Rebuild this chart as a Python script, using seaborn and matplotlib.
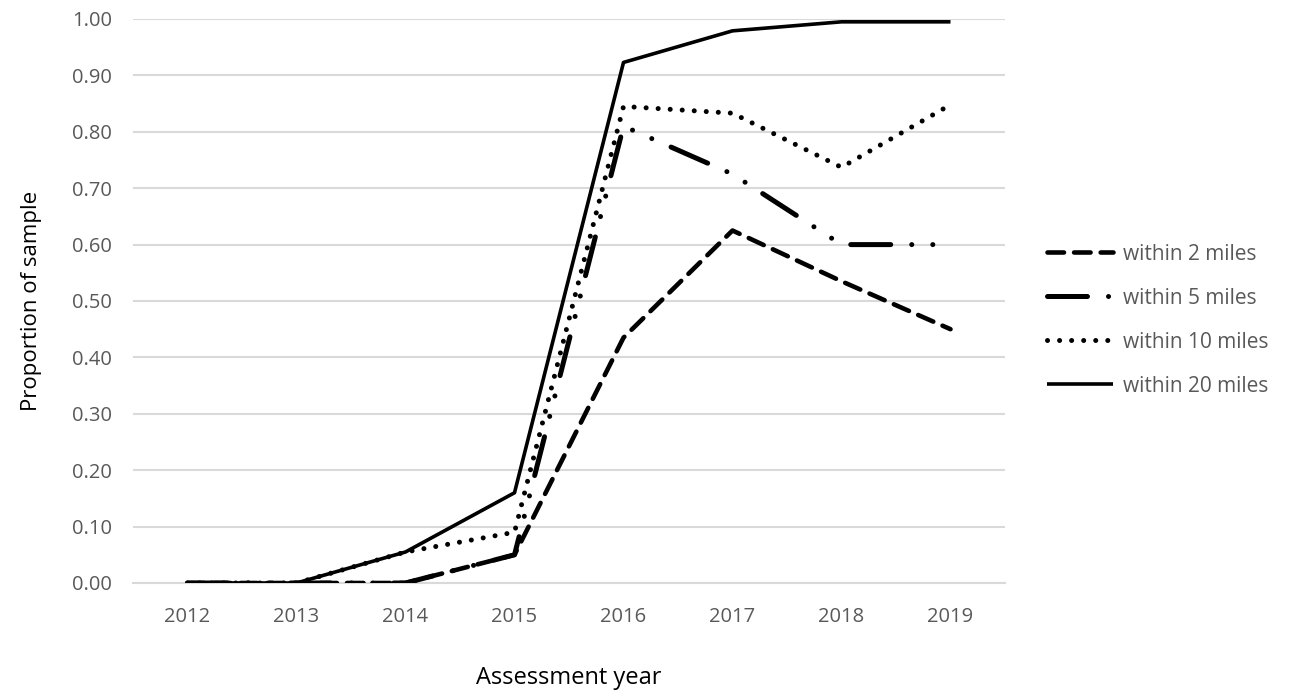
import seaborn as sns
import matplotlib.pyplot as plt
import pandas as pd

years = ["2012", "2013", "2014", "2015", "2016", "2017", "2018", "2019"]
within_2 = [0.0, 0.0, 0.0, 0.05, 0.435, 0.625, 0.535, 0.45]
within_5 = [0.0, 0.0, 0.0, 0.05, 0.81, 0.725, 0.60, 0.60]
within_10 = [0.0, 0.0, 0.055, 0.09, 0.845, 0.833, 0.737, 0.848]
within_20 = [0.0, 0.0, 0.055, 0.16, 0.923, 0.979, 0.995, 0.995]
series_names = ["within 2 miles", "within 5 miles", "within 10 miles", "within 20 miles"]

sns.set_theme(style="white")
plt.rcParams['font.family'] = ['Open Sans', 'DejaVu Sans']

fig = plt.figure(figsize=(12.91, 6.94), dpi=100)
ax = fig.add_axes([133 / 1291, 1 - 583 / 694, (1005 - 133) / 1291, (583 - 19) / 694])

x = list(range(len(years)))
styles = {
    "within 2 miles": dict(lw=3.3, dashes=(3.6, 2.2), dash_capstyle="round"),
    "within 5 miles": dict(lw=3.6, dashes=(8, 4.2, 0.01, 4.2, 0.01, 4.2), dash_capstyle="round"),
    "within 10 miles": dict(lw=3.6, dashes=(0.01, 2.4), dash_capstyle="round"),
    "within 20 miles": dict(lw=2.6, solid_capstyle="butt"),
}
data = [within_2, within_5, within_10, within_20]

for name, vals in zip(series_names, data):
    df = pd.DataFrame({"x": x, "y": vals})
    sns.lineplot(data=df, x="x", y="y", ax=ax, color="black", label=name, **styles[name])

ax.set_xlim(-0.5, 7.5)
ax.set_ylim(0, 1.0)
ax.set_xticks(x)
ax.set_xticklabels(years)
ax.set_yticks([i / 10 for i in range(11)])
ax.set_yticklabels([f"{i / 10:.2f}" for i in range(11)])
ax.tick_params(axis="both", length=0, labelsize=14.5, labelcolor="#595959")
ax.tick_params(axis="x", pad=17)
ax.tick_params(axis="y", pad=15)
ax.yaxis.grid(True, color="#d9d9d9", lw=1.5)
ax.set_axisbelow(True)
for s in ["top", "right", "left"]:
    ax.spines[s].set_visible(False)
ax.spines["bottom"].set_color("#d9d9d9")
ax.spines["bottom"].set_linewidth(1.5)
ax.spines["bottom"].set_zorder(0)

ax.set_xlabel("Assessment year", fontsize=17, color="black", labelpad=28)
ax.set_ylabel("Proportion of sample", fontsize=16, color="black", labelpad=22)

ax.get_legend().remove()
handles, labels = ax.get_legend_handles_labels()
leg = fig.legend(handles, labels, loc="upper left", bbox_to_anchor=(1028 / 1291, 1 - 225 / 694),
                 frameon=False, fontsize=15, handlelength=3.2, handletextpad=0.45,
                 labelspacing=1.1)
for t in leg.get_texts():
    t.set_color("#595959")

fig.savefig("out.png", dpi=100)
